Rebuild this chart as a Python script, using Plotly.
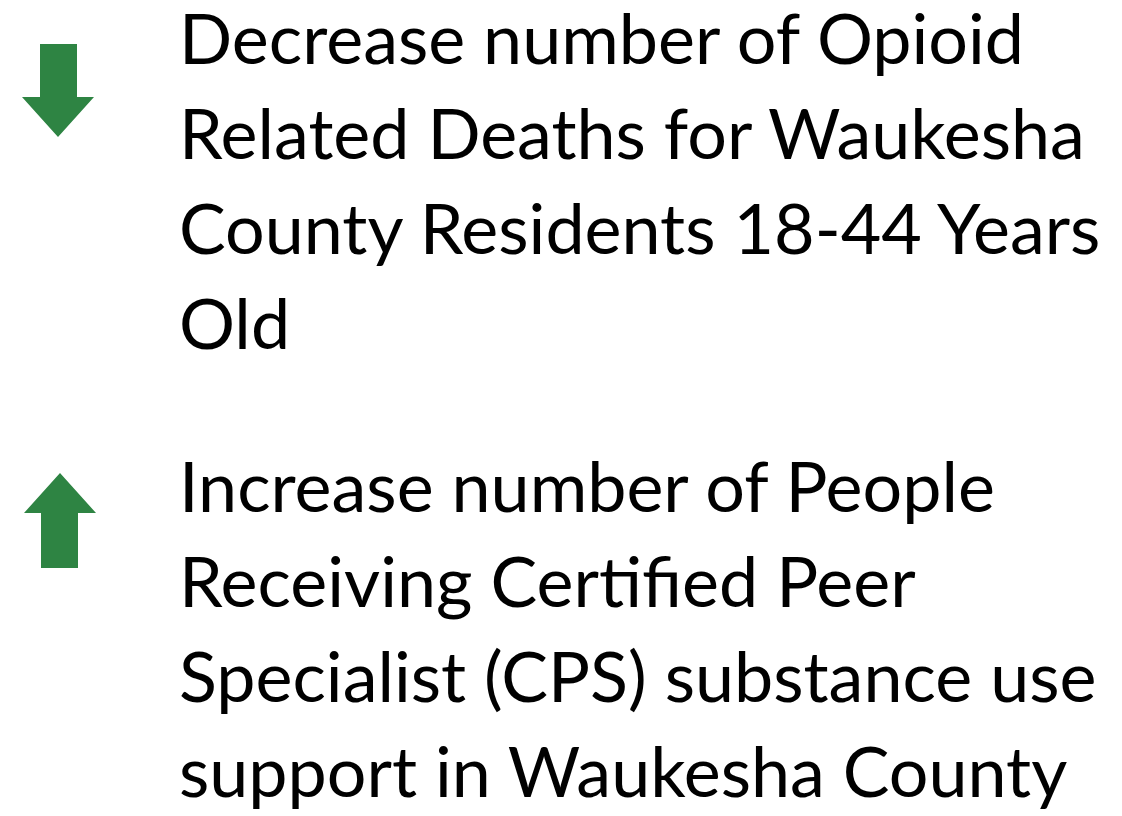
import plotly.graph_objects as go

# Content
goal_directions = ["down", "up"]
goal_lines = [
    ["Decrease number of Opioid", "Related Deaths for Waukesha", "County Residents 18-44 Years", "Old"],
    ["Increase number of People", "Receiving Certified Peer", "Specialist (CPS) substance use", "support in Waukesha County"],
]

# Layout (page pixel space; the page body has an 8px margin)
W, H = 1122, 816
BODY = 8
ARROW_COLOR = "#2E8443"
FONT = "Lato"
FSIZE = 70
block_baselines = [[65, 160, 255, 350], [513, 608, 703, 798]]
text_x = 181
arrow_specs = {
    "down": dict(sx0=40, sx1=77, sy0=44, sy1=97, hx0=22, hx1=94, tip=137, tx=58),
    "up": dict(sx0=41, sx1=78, sy0=568, sy1=513, hx0=24, hx1=96, tip=473, tx=60),
}

fig = go.Figure()
shapes = []
for d in goal_directions:
    a = arrow_specs[d]
    path = (f"M {a['sx0']},{a['sy0']} L {a['sx1']},{a['sy0']} L {a['sx1']},{a['sy1']} "
            f"L {a['hx1']},{a['sy1']} L {a['tx']},{a['tip']} L {a['hx0']},{a['sy1']} "
            f"L {a['sx0']},{a['sy1']} Z")
    shapes.append(dict(type="path", path=path, xref="x", yref="y",
                       fillcolor=ARROW_COLOR, line=dict(width=0)))

annotations = []
for lines, bases in zip(goal_lines, block_baselines):
    for txt, b in zip(lines, bases):
        annotations.append(dict(
            x=text_x - 4, y=b - 0.4 * FSIZE, xref="x", yref="y", text=txt, showarrow=False,
            xanchor="left", yanchor="middle", align="left",
            font=dict(family=FONT, size=FSIZE, color="#000000"),
        ))

fig.update_layout(
    width=W - BODY, height=H - BODY, margin=dict(l=0, r=0, t=0, b=0),
    paper_bgcolor="white", plot_bgcolor="white",
    xaxis=dict(range=[BODY, W], visible=False, fixedrange=True),
    yaxis=dict(range=[H, BODY], visible=False, fixedrange=True),
    shapes=shapes, annotations=annotations, showlegend=False,
)
fig.write_html("out.html")
